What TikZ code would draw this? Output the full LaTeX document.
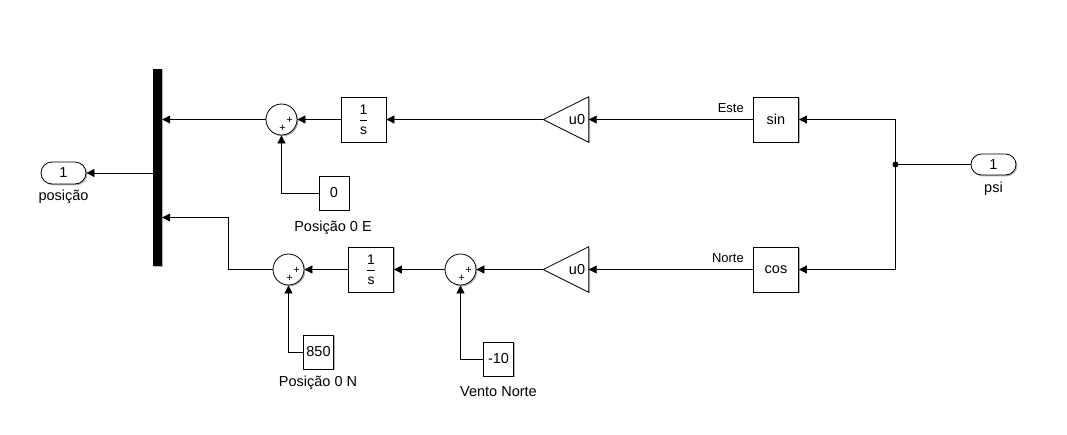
\documentclass[tikz,border=0pt]{standalone}
\usepackage{fontspec}
\setmainfont{Liberation Sans}
\usetikzlibrary{arrows.meta,shapes.misc,shadows}
\newcommand{\intfrac}{{\fontsize{14}{14}\selectfont$\displaystyle{\mbox{1}\above0.7pt\mbox{s}}$}}
\begin{document}
\begin{tikzpicture}[x=1pt,y=-1pt,
  font=\fontsize{14.5}{17}\selectfont,
  wire/.style={line width=0.8pt},
  sig/.style={line width=0.8pt,-{Triangle[length=8pt,width=8pt]}},
  shad/.style={drop shadow={shadow xshift=1.3pt,shadow yshift=-1.3pt,opacity=0.3,fill=black}},
  blk/.style={draw,line width=0.8pt,fill=white,shad,minimum width=45pt,minimum height=45pt,inner sep=0pt},
  cst/.style={draw,line width=0.8pt,fill=white,shad,minimum width=30pt,minimum height=34pt,inner sep=0pt},
  sumb/.style={circle,draw,line width=0.8pt,fill=white,shad,minimum size=31pt,inner sep=0pt},
  gainbox/.style={minimum width=45pt,minimum height=45pt,inner sep=0pt},
  gainshape/.style={draw,line width=0.8pt,fill=white,shad,line join=miter},
  port/.style={rounded rectangle,draw,line width=0.8pt,fill=white,shad,minimum width=45pt,minimum height=22pt,inner sep=0pt},
  plus/.style={font=\fontsize{11}{11}\selectfont,inner sep=0pt},
  lbl/.style={inner sep=0pt},
  slbl/.style={font=\fontsize{13}{15}\selectfont,inner sep=0pt,anchor=east}]
\useasboundingbox (0,0) rectangle (1067,434);
\fill[white] (0,0) rectangle (1067,434);

% mux bar
\node[fill=black,shad,minimum width=9pt,minimum height=197pt,inner sep=0pt] (mux) at (157.5,167.5) {};
\coordinate (muxin1) at (mux.east |- 0,119.5);
\coordinate (muxin2) at (mux.east |- 0,217.5);
\coordinate (muxout) at (mux.west |- 0,173);

% outport
\node[port] (out) at (63.5,173) {1};
\node[lbl] (outl) at (63.5,197) {posição};

% inport
\node[port,minimum height=21pt] (in) at (993.5,164.5) {1};
\node[lbl] (inl) at (993.5,189) {psi};
\fill (895.5,164.5) circle (3pt);
\coordinate (jn) at (895.5,164.5);
\coordinate (jt) at (895.5,119.5);
\coordinate (jb) at (895.5,269.5);

% top row
\node[blk] (sin) at (776,119.5) {sin};
\node[gainbox] (g1) at (566,119.5) {};
\draw[gainshape] (g1.north east) -- (g1.south east) -- (g1.west) -- cycle;
\node[lbl] (g1t) at (577,119.5) {u0};
\node[blk] (i1) at (363.5,119.5) {\intfrac};
\node[sumb] (s1) at (281.5,119.5) {};
\node[plus] (s1a) at (289.5,120) {+};
\node[plus] (s1b) at (282.5,128.5) {+};
\node[cst] (c0) at (334,193) {0};
\node[lbl] (c0l) at (333,228) {Posição 0 E};
\node[slbl] (este) at (744,108) {Este};

% bottom row
\node[blk] (cos) at (776,269.5) {cos};
\node[gainbox] (g2) at (566,269.5) {};
\draw[gainshape] (g2.north east) -- (g2.south east) -- (g2.west) -- cycle;
\node[lbl] (g2t) at (577,269.5) {u0};
\node[sumb] (s3) at (460.5,269.5) {};
\node[plus] (s3a) at (468.5,270) {+};
\node[plus] (s3b) at (461.5,278.5) {+};
\node[blk] (i2) at (371,269.5) {\intfrac};
\node[sumb] (s2) at (288.5,269.5) {};
\node[plus] (s2a) at (296.5,270) {+};
\node[plus] (s2b) at (289.5,278.5) {+};
\node[cst] (c850) at (318.5,352) {850};
\node[lbl] (c850l) at (318,383) {Posição 0 N};
\node[cst] (c10) at (498.5,359) {-10};
\node[lbl] (c10l) at (498.5,392) {Vento Norte};
\node[slbl] (norte) at (744,258.5) {Norte};

% connectors
\draw[wire] (in.west) -- (jn);
\draw[wire] (jt) -- (jb);
\draw[sig] (jt) -- (sin.east);
\draw[sig] (jb) -- (cos.east);
\draw[sig] (sin.west) -- (g1.east);
\draw[sig] (g1.west) -- (i1.east);
\draw[sig] (i1.west) -- (s1.east);
\draw[sig] (s1.west) -- (muxin1);
\draw[sig] (c0.west) -| (s1.south);
\draw[sig] (cos.west) -- (g2.east);
\draw[sig] (g2.west) -- (s3.east);
\draw[sig] (s3.west) -- (i2.east);
\draw[sig] (i2.west) -- (s2.east);
\draw[sig] (s2.west) -- (228.5,269.5) |- (muxin2);
\draw[sig] (c850.west) -| (s2.south);
\draw[sig] (c10.west) -| (s3.south);
\draw[sig] (muxout) -- (out.east);
\end{tikzpicture}
\end{document}
